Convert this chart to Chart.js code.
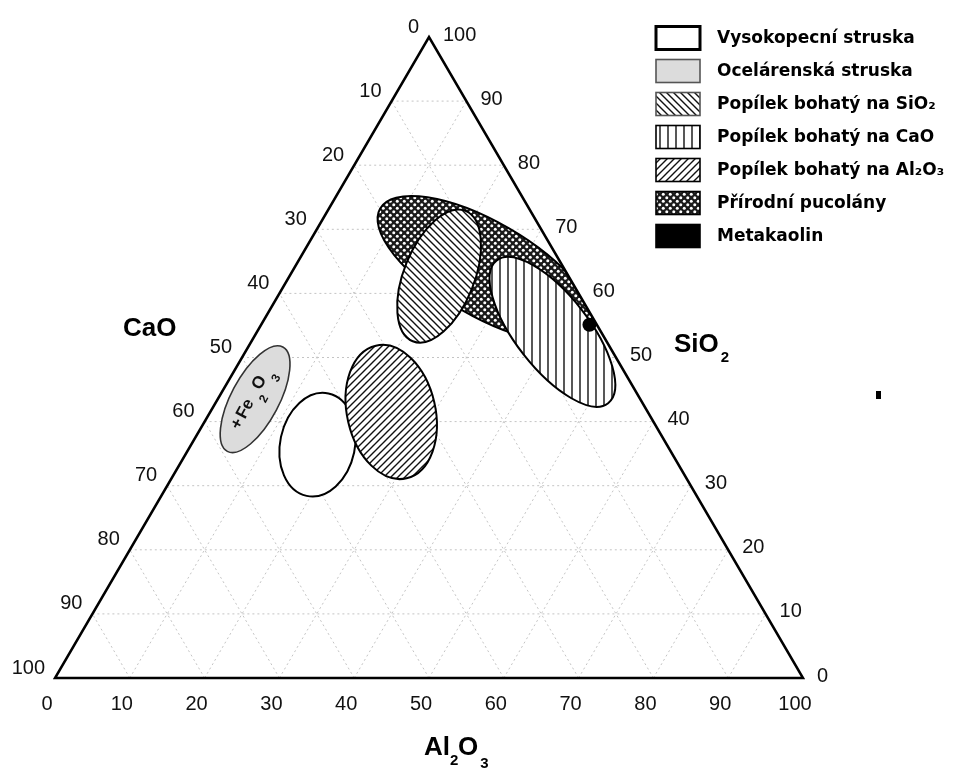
<!DOCTYPE html>
<html>
<head>
<meta charset="utf-8">
<script src="https://cdn.jsdelivr.net/npm/chart.js@4/dist/chart.umd.min.js"></script>
<style>
html,body{margin:0;padding:0;background:#fff;}
canvas{display:block;}
</style>
</head>
<body>
<canvas id="c" width="955" height="771" style="width:955px;height:771px"></canvas>
<script>
// ---------- DATA ----------
const tickValues = [0, 10, 20, 30, 40, 50, 60, 70, 80, 90, 100];
const axisTitles = { CaO: 'CaO', SiO2: 'SiO', Al2O3: 'Al' };

const regionNames = [
  'Vysokopecní struska',
  'Ocelárenská struska',
  'Popílek bohatý na SiO₂',
  'Popílek bohatý na CaO',
  'Popílek bohatý na Al₂O₃',
  'Přírodní pucolány'
];
// ellipse centres, ternary % (CaO, SiO2, Al2O3)
const regionCaO   = [46.7, 51.5, 17.3,  6.5, 34.3, 10.6];
const regionSiO2  = [36.4, 43.5, 62.7, 54.0, 41.5, 63.8];
const regionAl2O3 = [16.9,  5.0, 20.0, 39.5, 24.2, 25.6];
// ellipse half-axes (in % units) and tilt (deg)
const regionMajor = [7.0, 7.9, 9.4, 12.1, 9.1, 16.2];
const regionMinor = [5.0, 3.2, 4.7,  4.9, 5.9,  6.3];
const regionTilt  = [-78, -62, -68,  52,  77,  30];
const regionFill  = ['white', 'gray', 'back', 'vert', 'fwd', 'dots'];
const drawOrder   = [1, 0, 4, 5, 2, 3];

const metakaolinName = 'Metakaolin';
const metakaolinCaO = [1.0];
const metakaolinSiO2 = [55.1];
const metakaolinAl2O3 = [43.9];

// ---------- helpers ----------
function tern(ca, si, al) { return { x: al + si / 2, y: si }; }

const ctx0 = document.getElementById('c').getContext('2d');
function makePattern(kind) {
  const c = document.createElement('canvas');
  let s = 7;
  if (kind === 'vert') s = 8;
  c.width = s; c.height = s;
  const g = c.getContext('2d');
  g.fillStyle = '#fff'; g.fillRect(0, 0, s, s);
  g.strokeStyle = '#111'; g.lineWidth = 1.4;
  g.beginPath();
  if (kind === 'vert') {
    g.moveTo(s / 2, 0); g.lineTo(s / 2, s);
  } else if (kind === 'fwd') {
    g.moveTo(0, s); g.lineTo(s, 0);
    g.moveTo(s / 2, s * 1.5); g.lineTo(s * 1.5, s / 2);
    g.moveTo(-s / 2, s / 2); g.lineTo(s / 2, -s / 2);
  } else if (kind === 'back') {
    g.moveTo(0, 0); g.lineTo(s, s);
    g.moveTo(-s / 2, s / 2); g.lineTo(s / 2, s * 1.5);
    g.moveTo(s / 2, -s / 2); g.lineTo(s * 1.5, s / 2);
  }
  g.stroke();
  if (kind === 'dots') {
    g.fillStyle = '#1a1a1a'; g.fillRect(0, 0, s, s);
    g.fillStyle = '#fff';
    [[1.75, 1.75], [5.25, 5.25]].forEach(p => { g.beginPath(); g.arc(p[0], p[1], 1.5, 0, Math.PI * 2); g.fill(); });
  }
  return ctx0.createPattern(c, 'repeat');
}
const patterns = {
  vert: makePattern('vert'), fwd: makePattern('fwd'), back: makePattern('back'), dots: makePattern('dots')
};
function fillFor(kind) {
  if (kind === 'white') return '#ffffff';
  if (kind === 'gray') return '#dcdcdc';
  return patterns[kind];
}

const ternaryPlugin = {
  id: 'ternary',
  beforeDatasetsDraw(chart) {
    const ctx = chart.ctx;
    const xs = chart.scales.x, ys = chart.scales.y;
    const P = (ca, si, al) => { const t = tern(ca, si, al); return [xs.getPixelForValue(t.x), ys.getPixelForValue(t.y)]; };
    const A = P(100, 0, 0), B = P(0, 0, 100), C = P(0, 100, 0);
    ctx.save();
    // grid
    ctx.strokeStyle = '#c4c4c4'; ctx.lineWidth = 1; ctx.setLineDash([2, 3]);
    tickValues.forEach(k => {
      if (k === 0 || k === 100) return;
      const segs = [
        [P(100 - k, k, 0), P(0, k, 100 - k)],
        [P(100 - k, 0, k), P(0, 100 - k, k)],
        [P(k, 0, 100 - k), P(k, 100 - k, 0)]
      ];
      segs.forEach(s => { ctx.beginPath(); ctx.moveTo(s[0][0], s[0][1]); ctx.lineTo(s[1][0], s[1][1]); ctx.stroke(); });
    });
    ctx.setLineDash([]);
    // regions
    const unit = xs.getPixelForValue(1) - xs.getPixelForValue(0);
    ctx.save();
    ctx.beginPath(); ctx.moveTo(A[0], A[1]); ctx.lineTo(B[0], B[1]); ctx.lineTo(C[0], C[1]); ctx.closePath(); ctx.clip();
    drawOrder.forEach(i => {
      const c = P(regionCaO[i], regionSiO2[i], regionAl2O3[i]);
      const rot = regionTilt[i] * Math.PI / 180;
      ctx.beginPath();
      ctx.ellipse(c[0], c[1], regionMajor[i] * unit, regionMinor[i] * unit, rot, 0, Math.PI * 2);
      ctx.fillStyle = '#fff'; ctx.fill();
      ctx.fillStyle = fillFor(regionFill[i]); ctx.fill();
      ctx.lineWidth = regionFill[i] === 'gray' ? 1.6 : 2;
      ctx.strokeStyle = regionFill[i] === 'gray' ? '#333' : '#000';
      ctx.stroke();
      if (regionFill[i] === 'gray') {
        ctx.save();
        ctx.translate(c[0], c[1]); ctx.rotate(rot);
        ctx.fillStyle = '#111'; ctx.textBaseline = 'middle'; ctx.textAlign = 'left';
        ctx.font = 'bold 17px "Liberation Sans", Arial, sans-serif';
        ctx.fillText('+', -35, -4);
        ctx.fillText('Fe', -23, -4);
        ctx.fillText('O', 10, -4);
        ctx.font = 'bold 12px "Liberation Sans", Arial, sans-serif';
        ctx.fillText('2', 1, 8);
        ctx.fillText('3', 25, 9);
        ctx.restore();
      }
    });
    ctx.restore();
    // triangle
    ctx.beginPath(); ctx.moveTo(A[0], A[1]); ctx.lineTo(B[0], B[1]); ctx.lineTo(C[0], C[1]); ctx.closePath();
    ctx.strokeStyle = '#000'; ctx.lineWidth = 2.5; ctx.lineJoin = 'miter'; ctx.stroke();
    // tick labels
    ctx.fillStyle = '#111';
    ctx.font = '20px "Liberation Sans", Arial, sans-serif';
    ctx.textBaseline = 'middle';
    tickValues.forEach(k => {
      let p = P(k, 100 - k, 0);
      ctx.textAlign = 'right'; ctx.fillText(String(k), p[0] - 10, p[1] - 10);
      p = P(0, k, 100 - k);
      ctx.textAlign = 'left'; ctx.fillText(String(k), p[0] + 14, p[1] - 2);
      p = P(100 - k, 0, k);
      ctx.textAlign = 'center'; ctx.fillText(String(k), p[0] - 8, p[1] + 26);
    });
    // axis titles
    ctx.fillStyle = '#000';
    ctx.textBaseline = 'alphabetic'; ctx.textAlign = 'left';
    ctx.font = 'bold 26px "Liberation Sans", Arial, sans-serif';
    ctx.fillText(axisTitles.CaO, 123, 336);
    ctx.fillText(axisTitles.SiO2, 674, 352);
    let w = ctx.measureText(axisTitles.SiO2).width;
    ctx.font = 'bold 15px "Liberation Sans", Arial, sans-serif';
    ctx.fillText('2', 674 + w + 2, 362);
    ctx.font = 'bold 26px "Liberation Sans", Arial, sans-serif';
    ctx.fillText('Al', 424, 755);
    w = ctx.measureText('Al').width;
    ctx.font = 'bold 15px "Liberation Sans", Arial, sans-serif';
    ctx.fillText('2', 424 + w, 765);
    ctx.font = 'bold 26px "Liberation Sans", Arial, sans-serif';
    ctx.fillText('O', 424 + w + 8, 755);
    const w2 = ctx.measureText('O').width;
    ctx.font = 'bold 15px "Liberation Sans", Arial, sans-serif';
    ctx.fillText('3', 424 + w + 8 + w2 + 2, 768);
    // stray mark
    ctx.fillStyle = '#000';
    ctx.fillRect(876, 391, 5, 8);
    // legend
    const legendNames = regionNames.concat([metakaolinName]);
    const legendFills = regionFill.concat(['black']);
    legendNames.forEach((name, i) => {
      const cy = 38 + i * 33;
      const bx = 656, bw = 44, bh = 23, by = cy - bh / 2;
      ctx.fillStyle = '#fff'; ctx.fillRect(bx, by, bw, bh);
      ctx.fillStyle = legendFills[i] === 'black' ? '#000' : fillFor(legendFills[i]);
      ctx.fillRect(bx, by, bw, bh);
      ctx.lineWidth = i === 0 ? 3 : 1.6;
      ctx.strokeStyle = i === 1 || i === 2 ? '#555' : '#000';
      ctx.strokeRect(bx, by, bw, bh);
      ctx.fillStyle = '#000';
      ctx.font = 'bold 17px "DejaVu Sans", sans-serif';
      ctx.textAlign = 'left'; ctx.textBaseline = 'middle';
      ctx.fillText(name, 717, cy + 1);
    });
    ctx.restore();
  }
};

const metakaolinPoints = metakaolinCaO.map((ca, i) => tern(ca, metakaolinSiO2[i], metakaolinAl2O3[i]));

new Chart(document.getElementById('c'), {
  type: 'scatter',
  data: {
    datasets: [{
      label: metakaolinName,
      data: metakaolinPoints,
      pointRadius: 7,
      pointHoverRadius: 7,
      backgroundColor: '#000',
      borderColor: '#000',
      borderWidth: 0
    }]
  },
  options: {
    responsive: false,
    devicePixelRatio: 1,
    animation: false,
    layout: { padding: { left: 55, right: 152, top: 37, bottom: 93 } },
    scales: {
      x: { type: 'linear', min: 0, max: 100, display: false },
      y: { type: 'linear', min: 0, max: 100, display: false }
    },
    plugins: { legend: { display: false }, tooltip: { enabled: false } },
    events: []
  },
  plugins: [ternaryPlugin]
});
</script>
</body>
</html>
